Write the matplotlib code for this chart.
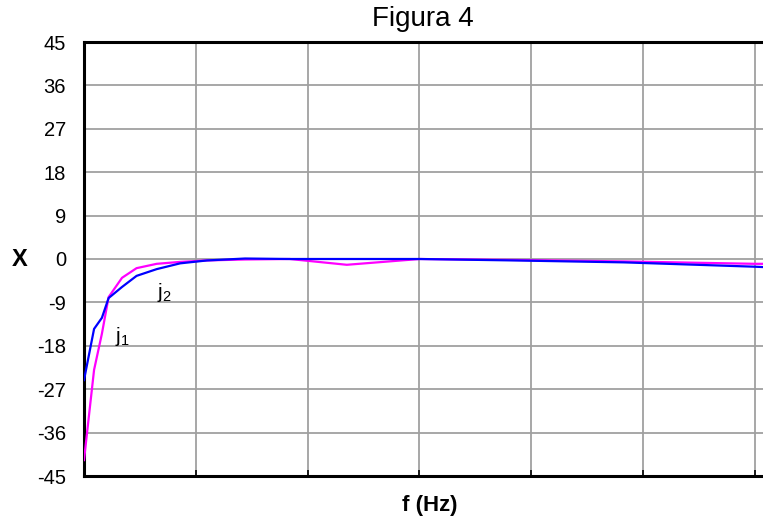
import matplotlib
matplotlib.use("Agg")
import matplotlib.pyplot as plt

plt.rcParams['font.family'] = ['Liberation Sans', 'DejaVu Sans']
plt.rcParams['mathtext.default'] = 'regular'

# data (x in grid units, labels hidden in the original)
f_vals = [0.0, 0.09, 0.16, 0.22, 0.34, 0.47, 0.65, 0.86, 1.10, 1.44, 1.84,
          2.35, 3.00, 3.85, 4.83, 6.00, 6.10]
j1_vals = [-41.7, -23.0, -15.5, -7.9, -3.9, -1.9, -1.0, -0.6, -0.3, -0.1, 0.0,
           -1.2, 0.0, -0.2, -0.5, -1.0, -1.0]
j2_vals = [-25.1, -14.5, -12.2, -8.1, -5.8, -3.5, -2.1, -0.9, -0.3, 0.1, 0.0,
           0.0, 0.0, -0.3, -0.7, -1.6, -1.7]
y_ticks = [-45, -36, -27, -18, -9, 0, 9, 18, 27, 36, 45]
x_ticks = [0, 1, 2, 3, 4, 5, 6]

W, H = 763, 520
fig = plt.figure(figsize=(W / 100, H / 100), dpi=100)
ax = fig.add_axes([84 / W, 44 / H, (W - 84) / W, 434 / H])

ax.plot(f_vals, j1_vals, color='#FF00FF', lw=1.6, zorder=3)
ax.plot(f_vals, j2_vals, color='#0000FF', lw=1.6, zorder=4)

ax.set_xlim(0, (W - 84) / 111.83)
ax.set_ylim(-45, 45)
ax.set_yticks(y_ticks)
ax.set_yticklabels([str(v) for v in y_ticks], fontsize=14.5)
ax.set_xticks(x_ticks)
ax.set_xticklabels([])
ax.grid(True, color='#A0A0A0', lw=1.3)
ax.set_axisbelow(True)
ax.tick_params(axis='x', direction='in', length=4, width=1.2, color='black')
ax.tick_params(axis='y', length=0, pad=13)

for s in ['left', 'bottom', 'top']:
    ax.spines[s].set_linewidth(2.2)
    ax.spines[s].set_color('black')
ax.spines['right'].set_visible(False)

ax.text(0.28, -17.2, 'j$_{1}$', fontsize=15, color='black')
ax.text(0.65, -8.0, 'j$_{2}$', fontsize=15, color='black')

fig.text(423 / W, 1 - 19 / H, 'Figura 4', ha='center', va='center', fontsize=20)
fig.text(430 / W, 1 - 505 / H, 'f (Hz)', ha='center', va='center', fontsize=16, fontweight='bold')
fig.text(20 / W, 1 - 259 / H, 'X', ha='center', va='center', fontsize=17, fontweight='bold')

fig.savefig('out.png', dpi=100)
